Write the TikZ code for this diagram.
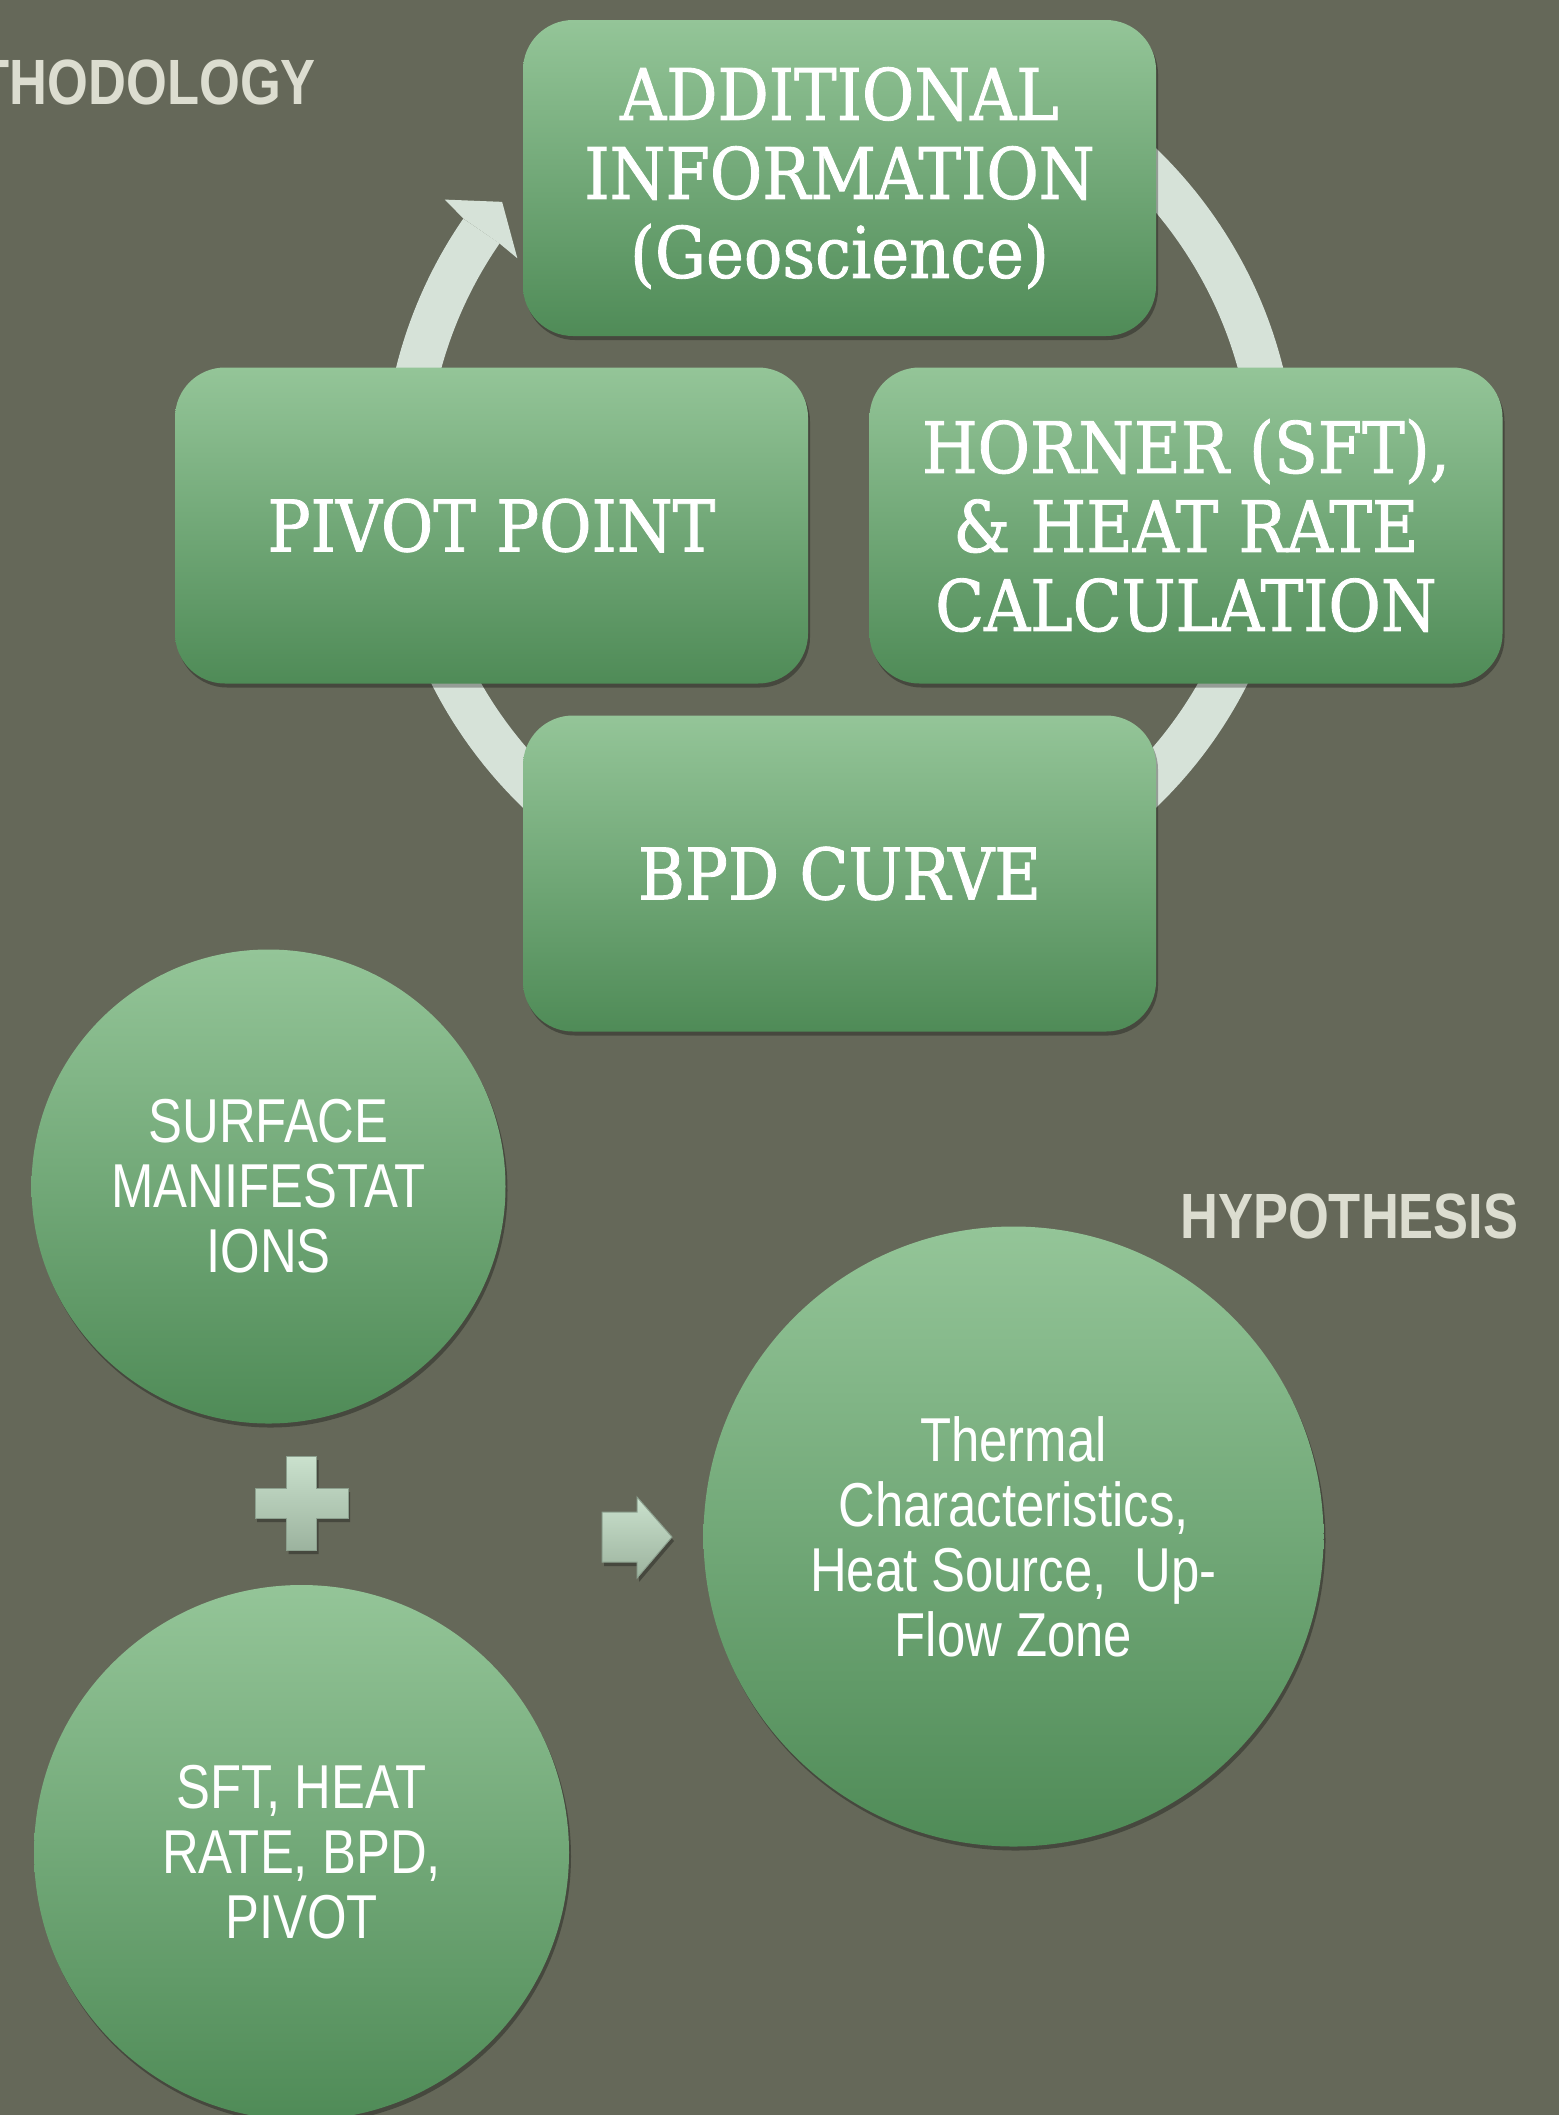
\documentclass[tikz,border=0pt]{standalone}
\usepackage{fontspec}
\usetikzlibrary{shadows}
\newfontfamily\slabfont{DejaVu Serif}[FakeStretch=0.9,FakeBold=1.2]
\newfontfamily\narrowfont{Liberation Sans}[FakeStretch=0.82]
\definecolor{bgcol}{RGB}{101,104,89}
\definecolor{greentop}{RGB}{148,197,152}
\definecolor{greenbot}{RGB}{79,139,87}
\definecolor{ringcol}{RGB}{214,226,216}
\definecolor{titlecol}{RGB}{220,221,208}
\definecolor{signtop}{RGB}{202,225,205}
\definecolor{signbot}{RGB}{156,179,158}
\definecolor{signedge}{RGB}{140,160,142}

\begin{document}
\begin{tikzpicture}[x=1pt,y=1pt,
  softshadow/.style={drop shadow={shadow xshift=2pt,shadow yshift=-4pt,opacity=.3,fill=black}},
  stepbox/.style={rectangle,rounded corners=50pt,minimum width=633pt,minimum height=316pt,
    top color=greentop,bottom color=greenbot,softshadow,text=white,align=center,
    font=\slabfont\fontsize{71}{79}\selectfont},
  bubble/.style={circle,inner sep=0pt,top color=greentop,bottom color=greenbot,softshadow,
    text=white,align=center,font=\narrowfont\fontsize{62}{65}\selectfont},
  sign/.style={top color=signtop,bottom color=signbot,draw=signedge,line width=1pt,softshadow},
  heading/.style={inner sep=0pt,text=titlecol,font=\narrowfont\bfseries\fontsize{64}{70}\selectfont}]
\useasboundingbox (0,0) rectangle (1559,-2115);
\clip (0,0) rectangle (1559,-2115);
\fill[bgcol] (0,0) rectangle (1559,-2115);

% cycle ring behind the boxes
\coordinate (hub) at (839.5,-478);
\draw[black,opacity=.25,line width=44pt,shift={(2pt,-4pt)}] (hub) ++(125:435)
  arc[start angle=125,end angle=-214.6,radius=435];
\draw[ringcol,line width=44pt] (hub) ++(125:435) arc[start angle=125,end angle=-214.6,radius=435];
\fill[ringcol,shift={(hub)}] (145.4:413) -- (145.7:390) -- (140.7:436) -- (144.8:483) -- (145.4:457) -- cycle;

% method steps
\node[stepbox] (info) at (839.5,-178) {ADDITIONAL\\INFORMATION\\(Geoscience)};
\node[stepbox] (pivot) at (491.5,-525.5) {PIVOT POINT};
\node[stepbox] (horner) at (1186,-525.5) {HORNER (SFT),\\\& HEAT RATE\\CALCULATION};
\node[stepbox] (bpd) at (839.5,-873.5) {BPD CURVE};

% hypothesis
\node[bubble,minimum size=474pt] (surface) at (268.5,-1186.5) {SURFACE\\MANIFESTAT\\IONS};
\node[bubble,minimum size=535pt] (sft) at (301.5,-1852.5) {SFT, HEAT\\RATE, BPD,\\PIVOT};
\node[bubble,minimum size=620pt] (thermal) at (1013.5,-1536.5)
  {Thermal\\Characteristics,\\Heat Source,\ \ Up-\\Flow Zone};

\coordinate (plus) at (301.5,-1503);
\path[sign,shift={(plus)}] (-15,47) -- (15,47) -- (15,15) -- (46.5,15) -- (46.5,-15) -- (15,-15)
  -- (15,-47) -- (-15,-47) -- (-15,-15) -- (-46.5,-15) -- (-46.5,15) -- (-15,15) -- cycle;
\coordinate (go) at (637,-1537);
\path[sign,shift={(go)}] (-35,25) -- (0,25) -- (0,40) -- (35,0) -- (0,-41) -- (0,-25) -- (-35,-25) -- cycle;

\node[heading,anchor=base east] (method) at (316,-104) {THODOLOGY};
\node[heading,anchor=base west] (hypo) at (1180,-1238) {HYPOTHESIS};
\end{tikzpicture}
\end{document}
